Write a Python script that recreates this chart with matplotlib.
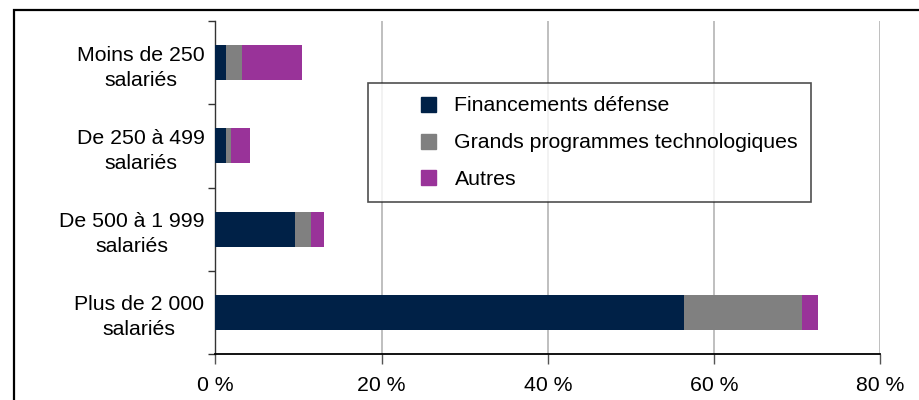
import matplotlib
matplotlib.use("Agg")
import matplotlib.pyplot as plt
from matplotlib.lines import Line2D
from matplotlib.patches import Rectangle
import numpy as np

plt.rcParams['font.family'] = ['Liberation Sans', 'DejaVu Sans']

categories = ["Moins de 250\nsalariés", "De 250 à 499\nsalariés",
              "De 500 à 1 999\nsalariés", "Plus de 2 000\nsalariés"]
series_names = ["Financements défense", "Grands programmes technologiques", "Autres"]
defense = [1.3, 1.3, 9.6, 56.4]
grands_programmes = [1.9, 0.6, 1.9, 14.1]
autres = [7.2, 2.3, 1.6, 2.0]
x_ticks = [0, 20, 40, 60, 80]
x_tick_labels = ["0 %", "20 %", "40 %", "60 %", "80 %"]

colors = ["#002147", "#808080", "#993399"]

W, H = 920, 400
FS = 15.3
fig = plt.figure(figsize=(W / 100, H / 100), dpi=100)
ax = fig.add_axes([215.5 / W, (H - 354) / H, (880.5 - 215.5) / W, (354 - 21) / H])

y = np.arange(len(categories))
left = np.zeros(len(categories))
for vals, col, name in zip([defense, grands_programmes, autres], colors, series_names):
    ax.barh(y, vals, left=left, height=0.42, color=col, label=name, zorder=3)
    left = left + np.array(vals)

ax.set_xlim(0, 80)
ax.set_ylim(3.5, -0.5)
ax.set_xticks(x_ticks)
ax.set_xticklabels(x_tick_labels, fontsize=FS)
ax.xaxis.grid(True, color="#b4b4b4", linewidth=1.2, zorder=0)

ax.set_yticks(np.arange(-0.5, len(categories), 1.0))
ax.set_yticklabels([])
ax.set_yticks(y, minor=True)
ax.set_yticklabels(categories, minor=True, fontsize=FS, ha="right",
                   multialignment="center", linespacing=1.4)
ax.tick_params(axis="y", which="minor", length=0, pad=8)
ax.tick_params(axis="y", which="major", length=5, width=1, color="#333333", direction="out")
ax.tick_params(axis="x", length=7, width=1, color="#555555", direction="out", pad=9)

for s in ["top", "right"]:
    ax.spines[s].set_visible(False)
ax.spines["bottom"].set_color("black")
ax.spines["bottom"].set_linewidth(1.3)
ax.spines["left"].set_color("#333333")
ax.spines["left"].set_linewidth(1.0)

handles = [Line2D([], [], marker="s", linestyle="none", markersize=10.8,
                  markerfacecolor=c, markeredgecolor=c) for c in colors]
leg = fig.legend(handles, series_names, loc="upper left",
                 bbox_to_anchor=(368 / W, 1 - 83 / H), borderaxespad=0,
                 fontsize=FS, frameon=True, fancybox=False, shadow=False,
                 borderpad=0.62, handlelength=4.45, handletextpad=-1.0,
                 labelspacing=0.84)
leg.get_frame().set_edgecolor("#222222")
leg.get_frame().set_linewidth(1.2)

fig.patches.append(Rectangle((14 / W, -0.1), 1.2, 0.1 + (H - 10) / H,
                             transform=fig.transFigure, fill=False,
                             edgecolor="black", linewidth=1.6))

fig.savefig("out.png", dpi=100)
